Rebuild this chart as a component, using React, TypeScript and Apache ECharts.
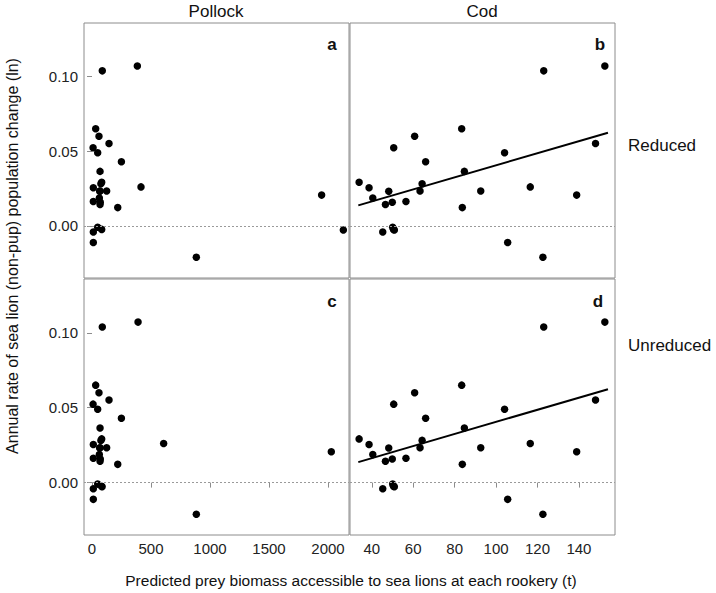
import React, { useEffect, useRef } from "react";
import * as echarts from "echarts";

// Site-level data (each index = one rookery)
const rate = [0.1072, 0.1039, 0.0651, 0.06, 0.0552, 0.0524, 0.049, 0.043, 0.0365, 0.0292, 0.0282, 0.0261, 0.0255, 0.0233, 0.0233, 0.0231, 0.0206, 0.0187, 0.0163, 0.0158, 0.0143, 0.0122, -0.001, -0.0024, -0.0028, -0.0041, -0.0112, -0.0211];
const codBiomass = [152.5, 123.0, 83.4, 60.7, 148.0, 50.6, 104.1, 66.0, 84.7, 33.9, 64.3, 116.5, 38.7, 63.3, 92.6, 48.2, 138.9, 40.5, 56.5, 49.9, 46.6, 83.7, 50.1, 50.5, 50.9, 45.3, 105.6, 122.6];
const pollockReduced = [384, 87, 31, 59, 144, 9, 48, 249, 68, 82, 75, 415, 11, 68, 124, 65, 1946, 62, 11, 70, 68, 218, 48, 82, 2130, 11, 11, 884];
const pollockUnreduced = [390, 87, 31, 59, 144, 9, 48, 249, 68, 82, 75, 607, 11, 68, 124, 65, 2028, 62, 11, 70, 68, 218, 48, 82, 85, 11, 11, 884];

// Fitted regression (cod) endpoints
const fitX = [33.5, 154.0];
const fitY = [0.0137, 0.0624];

// Tick labels
const yTicks = [0, 0.05, 0.1];
const pollockTicks = [0, 500, 1000, 1500, 2000];
const codTicks = [40, 60, 80, 100, 120, 140];

const columns = ["Pollock", "Cod"];
const rows = ["Reduced", "Unreduced"];
const panelLetters = ["a", "b", "c", "d"];

const FONT = "'Liberation Sans', Arial, sans-serif";

export default function App() {
  const ref = useRef<HTMLDivElement>(null);

  useEffect(() => {
    if (!ref.current) return;
    const chart = echarts.init(ref.current, undefined, { renderer: "svg" });

    const gridDefs = [
      { left: 84, top: 23, width: 265, height: 255 },
      { left: 350, top: 23, width: 265, height: 255 },
      { left: 84, top: 279, width: 265, height: 256 },
      { left: 350, top: 279, width: 265, height: 256 },
    ];
    const grids = gridDefs.map((g) => ({
      ...g,
      show: true,
      borderColor: "#8c8c8c",
      borderWidth: 1,
      backgroundColor: "transparent",
    }));

    const xAxes = gridDefs.map((_, i) => {
      const isCod = i % 2 === 1;
      const isBottom = i >= 2;
      return {
        type: "value",
        gridIndex: i,
        min: isCod ? 29.5 : -68,
        max: isCod ? 157.4 : 2178,
        splitLine: { show: false },
        axisLine: { show: false },
        axisTick: {
          show: isBottom,
          length: 5,
          lineStyle: { color: "#8c8c8c" },
          customValues: isCod ? codTicks : pollockTicks,
        },
        axisLabel: {
          show: isBottom,
          customValues: isCod ? codTicks : pollockTicks,
          formatter: (v: number) => String(v),
          fontFamily: FONT,
          fontSize: 15,
          color: "#222",
          margin: 6,
        },
      };
    });

    const yAxes = gridDefs.map((_, i) => {
      const isLeft = i % 2 === 0;
      return {
        type: "value",
        gridIndex: i,
        min: -0.035,
        max: 0.136,
        splitLine: { show: false },
        axisLine: { show: false },
        axisTick: {
          show: isLeft,
          length: 5,
          lineStyle: { color: "#8c8c8c" },
          customValues: yTicks,
        },
        axisLabel: {
          show: isLeft,
          customValues: yTicks,
          formatter: (v: number) => v.toFixed(2),
          fontFamily: FONT,
          fontSize: 15,
          color: "#222",
          margin: 6,
        },
      };
    });

    const xSets = [pollockReduced, codBiomass, pollockUnreduced, codBiomass];

    const series: any[] = [];
    xSets.forEach((xs, i) => {
      series.push({
        type: "scatter",
        xAxisIndex: i,
        yAxisIndex: i,
        symbolSize: 7.5,
        itemStyle: { color: "#000", opacity: 1 },
        data: xs.map((x, k) => [x, rate[k]]),
        markLine: {
          silent: true,
          symbol: "none",
          label: { show: false },
          lineStyle: { color: "#9a9a9a", type: [2, 2], width: 1 },
          data: [{ yAxis: 0 }],
        },
      });
      if (i % 2 === 1) {
        series.push({
          type: "line",
          xAxisIndex: i,
          yAxisIndex: i,
          showSymbol: false,
          symbol: "none",
          lineStyle: { color: "#000", width: 2 },
          data: fitX.map((x, k) => [x, fitY[k]]),
        });
      }
    });

    const letterPos = [
      [332, 44],
      [600, 44],
      [332, 301],
      [598, 301],
    ];

    const graphic: any[] = [
      ...columns.map((c, i) => ({
        type: "text",
        x: i === 0 ? 216 : 482,
        y: 11,
        style: { text: c, fontFamily: FONT, fontSize: 17, fill: "#111", align: "center", verticalAlign: "middle" },
      })),
      ...rows.map((r, i) => ({
        type: "text",
        x: 628,
        y: i === 0 ? 145 : 345,
        style: { text: r, fontFamily: FONT, fontSize: 17, fill: "#111", align: "left", verticalAlign: "middle" },
      })),
      ...panelLetters.map((l, i) => ({
        type: "text",
        x: letterPos[i][0],
        y: letterPos[i][1],
        style: { text: l, fontFamily: FONT, fontSize: 17, fontWeight: "bold", fill: "#111", align: "center", verticalAlign: "middle" },
      })),
      {
        type: "text",
        x: 12,
        y: 256,
        rotation: Math.PI / 2,
        style: {
          text: "Annual rate of sea lion (non-pup) population change (ln)",
          fontFamily: FONT,
          fontSize: 16,
          fill: "#111",
          align: "center",
          verticalAlign: "middle",
        },
      },
      {
        type: "text",
        x: 351,
        y: 580,
        style: {
          text: "Predicted prey biomass accessible to sea lions at each rookery (t)",
          fontFamily: FONT,
          fontSize: 15.5,
          fill: "#111",
          align: "center",
          verticalAlign: "middle",
        },
      },
    ];

    chart.setOption({
      animation: false,
      backgroundColor: "#fff",
      grid: grids,
      xAxis: xAxes,
      yAxis: yAxes,
      series,
      graphic,
    });

    return () => chart.dispose();
  }, []);

  return (
    <div
      ref={ref}
      style={{ position: "fixed", left: 0, top: 0, width: 716, height: 593 }}
    />
  );
}
